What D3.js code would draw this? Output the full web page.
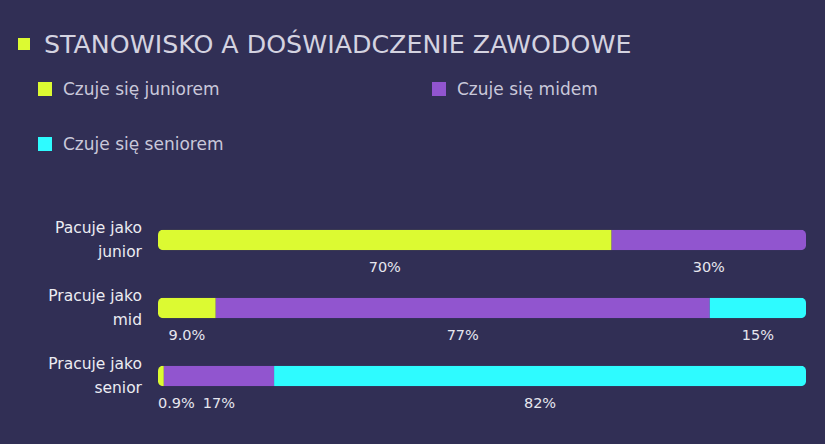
<!DOCTYPE html>
<html>
<head>
<meta charset="utf-8">
<script src="https://cdn.jsdelivr.net/npm/d3@7"></script>
<style>
  body { margin: 0; background: #312f55; }
  text { font-family: "DejaVu Sans", sans-serif; }
</style>
</head>
<body>
<script>
// chart data
const categories = [["Pacuje jako", "junior"], ["Pracuje jako", "mid"], ["Pracuje jako", "senior"]];
const seriesNames = ["Czuje się juniorem", "Czuje się midem", "Czuje się seniorem"];
const juniorVals = [70, 9.0, 0.9];
const midVals = [30, 77, 17];
const seniorVals = [0, 15, 82];
const colors = ["#dcfa32", "#9155cf", "#2efbff"];

const width = 825;
const height = 444;
const margin = {left: 158, right: 19, top: 206};

const svg = d3.select("body")
    .append("svg")
        .attr("width", width)
        .attr("height", height);

// title
svg.append("rect")
    .attr("x", 18).attr("y", 38)
    .attr("width", 12).attr("height", 12)
    .attr("fill", colors[0]);

svg.append("text")
    .attr("x", 44)
    .attr("y", 53)
    .attr("font-size", "25.3px")
    .style("fill", "#d4d3e0")
    .text("STANOWISKO A DOŚWIADCZENIE ZAWODOWE");

// legend
const legendPos = [[38, 82], [432, 82], [38, 137]];
seriesNames.forEach((name, i) => {
    svg.append("rect")
        .attr("x", legendPos[i][0]).attr("y", legendPos[i][1])
        .attr("width", 14).attr("height", 14)
        .attr("fill", colors[i]);
    svg.append("text")
        .attr("x", legendPos[i][0] + 25)
        .attr("y", legendPos[i][1] + 13)
        .attr("font-size", "17px")
        .style("fill", "#c9c8da")
        .text(name);
});

const rows = categories.map((c, i) => {
    const vals = [juniorVals[i], midVals[i], seniorVals[i]];
    const total = d3.sum(vals);
    let acc = 0;
    const segs = vals.map((v, k) => {
        const s = {k: k, v: v, x0: acc / total, x1: (acc + v) / total};
        acc += v;
        return s;
    }).filter(s => s.v > 0);
    return {label: c, segs: segs};
});

const x = d3.scaleLinear()
    .domain([0, 1])
    .range([margin.left, width - margin.right]);

const y = d3.scaleBand()
    .domain(d3.range(rows.length))
    .range([margin.top, margin.top + 204])
    .paddingInner(0.7)
    .paddingOuter(0.35);

const r = 5;
rows.forEach((row, i) => {
    const g = svg.append("g");
    const y0 = y(i), bh = y.bandwidth();

    // clip for rounded outer corners
    const clipId = "clip" + i;
    svg.append("clipPath").attr("id", clipId)
        .append("rect")
        .attr("x", x(0)).attr("y", y0)
        .attr("width", x(1) - x(0)).attr("height", bh)
        .attr("rx", r);

    g.attr("clip-path", "url(#" + clipId + ")")
        .selectAll("rect")
        .data(row.segs)
        .enter()
        .append("rect")
            .attr("x", d => x(d.x0))
            .attr("y", y0)
            .attr("width", d => x(d.x1) - x(d.x0))
            .attr("height", bh)
            .attr("fill", d => colors[d.k]);

    // value labels
    svg.selectAll(".val" + i)
        .data(row.segs)
        .enter()
        .append("text")
            .attr("class", "val" + i)
            .attr("font-size", "14.5px")
            .style("fill", "#e6e6ee")
            .attr("y", y0 + bh + 22)
            .text(d => (d.v < 10 ? d.v.toFixed(1) : d3.format(".0f")(d.v)) + "%")
            .each(function(d) {
                const w = this.getComputedTextLength();
                let cx = (x(d.x0) + x(d.x1)) / 2 - w / 2;
                cx = Math.max(cx, x(0));
                d3.select(this).attr("x", cx);
            });

    // category labels
    const lbl = svg.append("text")
        .attr("text-anchor", "end")
        .attr("font-size", "15.5px")
        .style("fill", "#ececf2");
    row.label.forEach((t, j) => {
        lbl.append("tspan")
            .attr("x", 142)
            .attr("y", y0 + bh / 2 - 7 + j * 24)
            .text(t);
    });
});
</script>
</body>
</html>
